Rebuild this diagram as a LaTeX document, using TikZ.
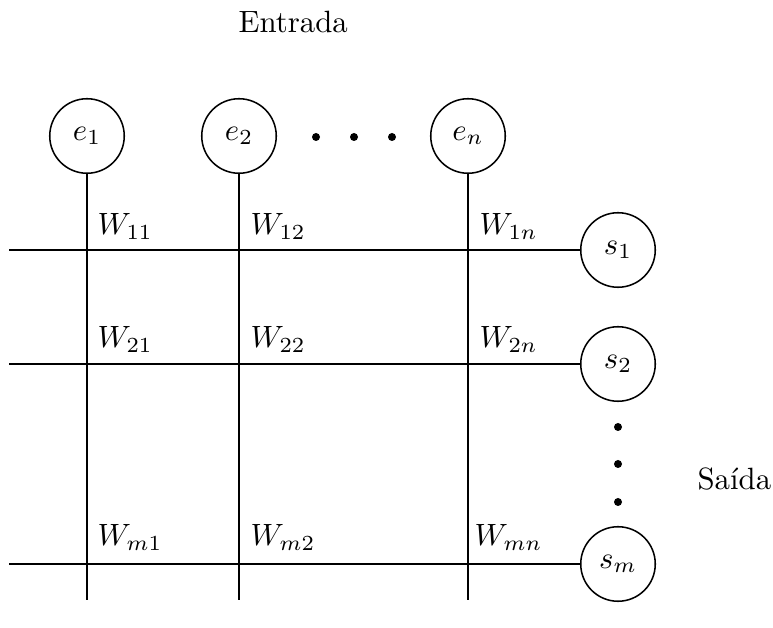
\documentclass[tikz,border=0pt]{standalone}
\begin{document}
\begin{tikzpicture}[x=0.3247pt,y=-0.3247pt,
  neuron/.style={draw,circle,line width=0.5pt,minimum size=24.2pt,inner sep=0pt},
  wire/.style={line width=0.5pt},
  wlab/.style={anchor=base west,inner sep=0pt},
  dotmark/.style={fill,circle,inner sep=0pt,minimum size=2.6pt}]
\useasboundingbox (0,0) rectangle (773,628);
% input neurons
\node[neuron] (e1) at (87,136) {$e_1$};
\node[neuron] (e2) at (239,136) {$e_2$};
\node[neuron] (en) at (468,136) {$e_n$};
\node[dotmark] (d1) at (316,137) {};
\node[dotmark] (d2) at (354,137) {};
\node[dotmark] (d3) at (392,137) {};
% output neurons
\node[neuron] (s1) at (618,250) {$s_1$};
\node[neuron] (s2) at (618,364) {$s_2$};
\node[neuron] (sm) at (618,564) {$s_m$};
\node[dotmark] (v1) at (618,427) {};
\node[dotmark] (v2) at (618,464) {};
\node[dotmark] (v3) at (618,502) {};
% free ends
\coordinate (b1) at (87,600);
\coordinate (b2) at (239,600);
\coordinate (bn) at (468,600);
\coordinate (h1) at (9,250);
\coordinate (h2) at (9,364);
\coordinate (hm) at (9,564);
% wires
\draw[wire] (e1) -- (b1);
\draw[wire] (e2) -- (b2);
\draw[wire] (en) -- (bn);
\draw[wire] (h1) -- (s1);
\draw[wire] (h2) -- (s2);
\draw[wire] (hm) -- (sm);
% weight labels
\node[wlab] (w11) at (97,235) {$W_{11}$};
\node[wlab] (w12) at (250,235) {$W_{12}$};
\node[wlab] (w1n) at (479,235) {$W_{1n}$};
\node[wlab] (w21) at (97,348) {$W_{21}$};
\node[wlab] (w22) at (250,348) {$W_{22}$};
\node[wlab] (w2n) at (479,348) {$W_{2n}$};
\node[wlab] (wm1) at (97,546) {$W_{m1}$};
\node[wlab] (wm2) at (250,546) {$W_{m2}$};
\node[wlab] (wmn) at (474,546) {$W_{mn}$};
% titles
\node[anchor=base west,inner sep=0pt] (ent) at (238,33) {Entrada};
\node[anchor=base west,inner sep=0pt] (sai) at (697,490) {Saída};
\end{tikzpicture}
\end{document}
